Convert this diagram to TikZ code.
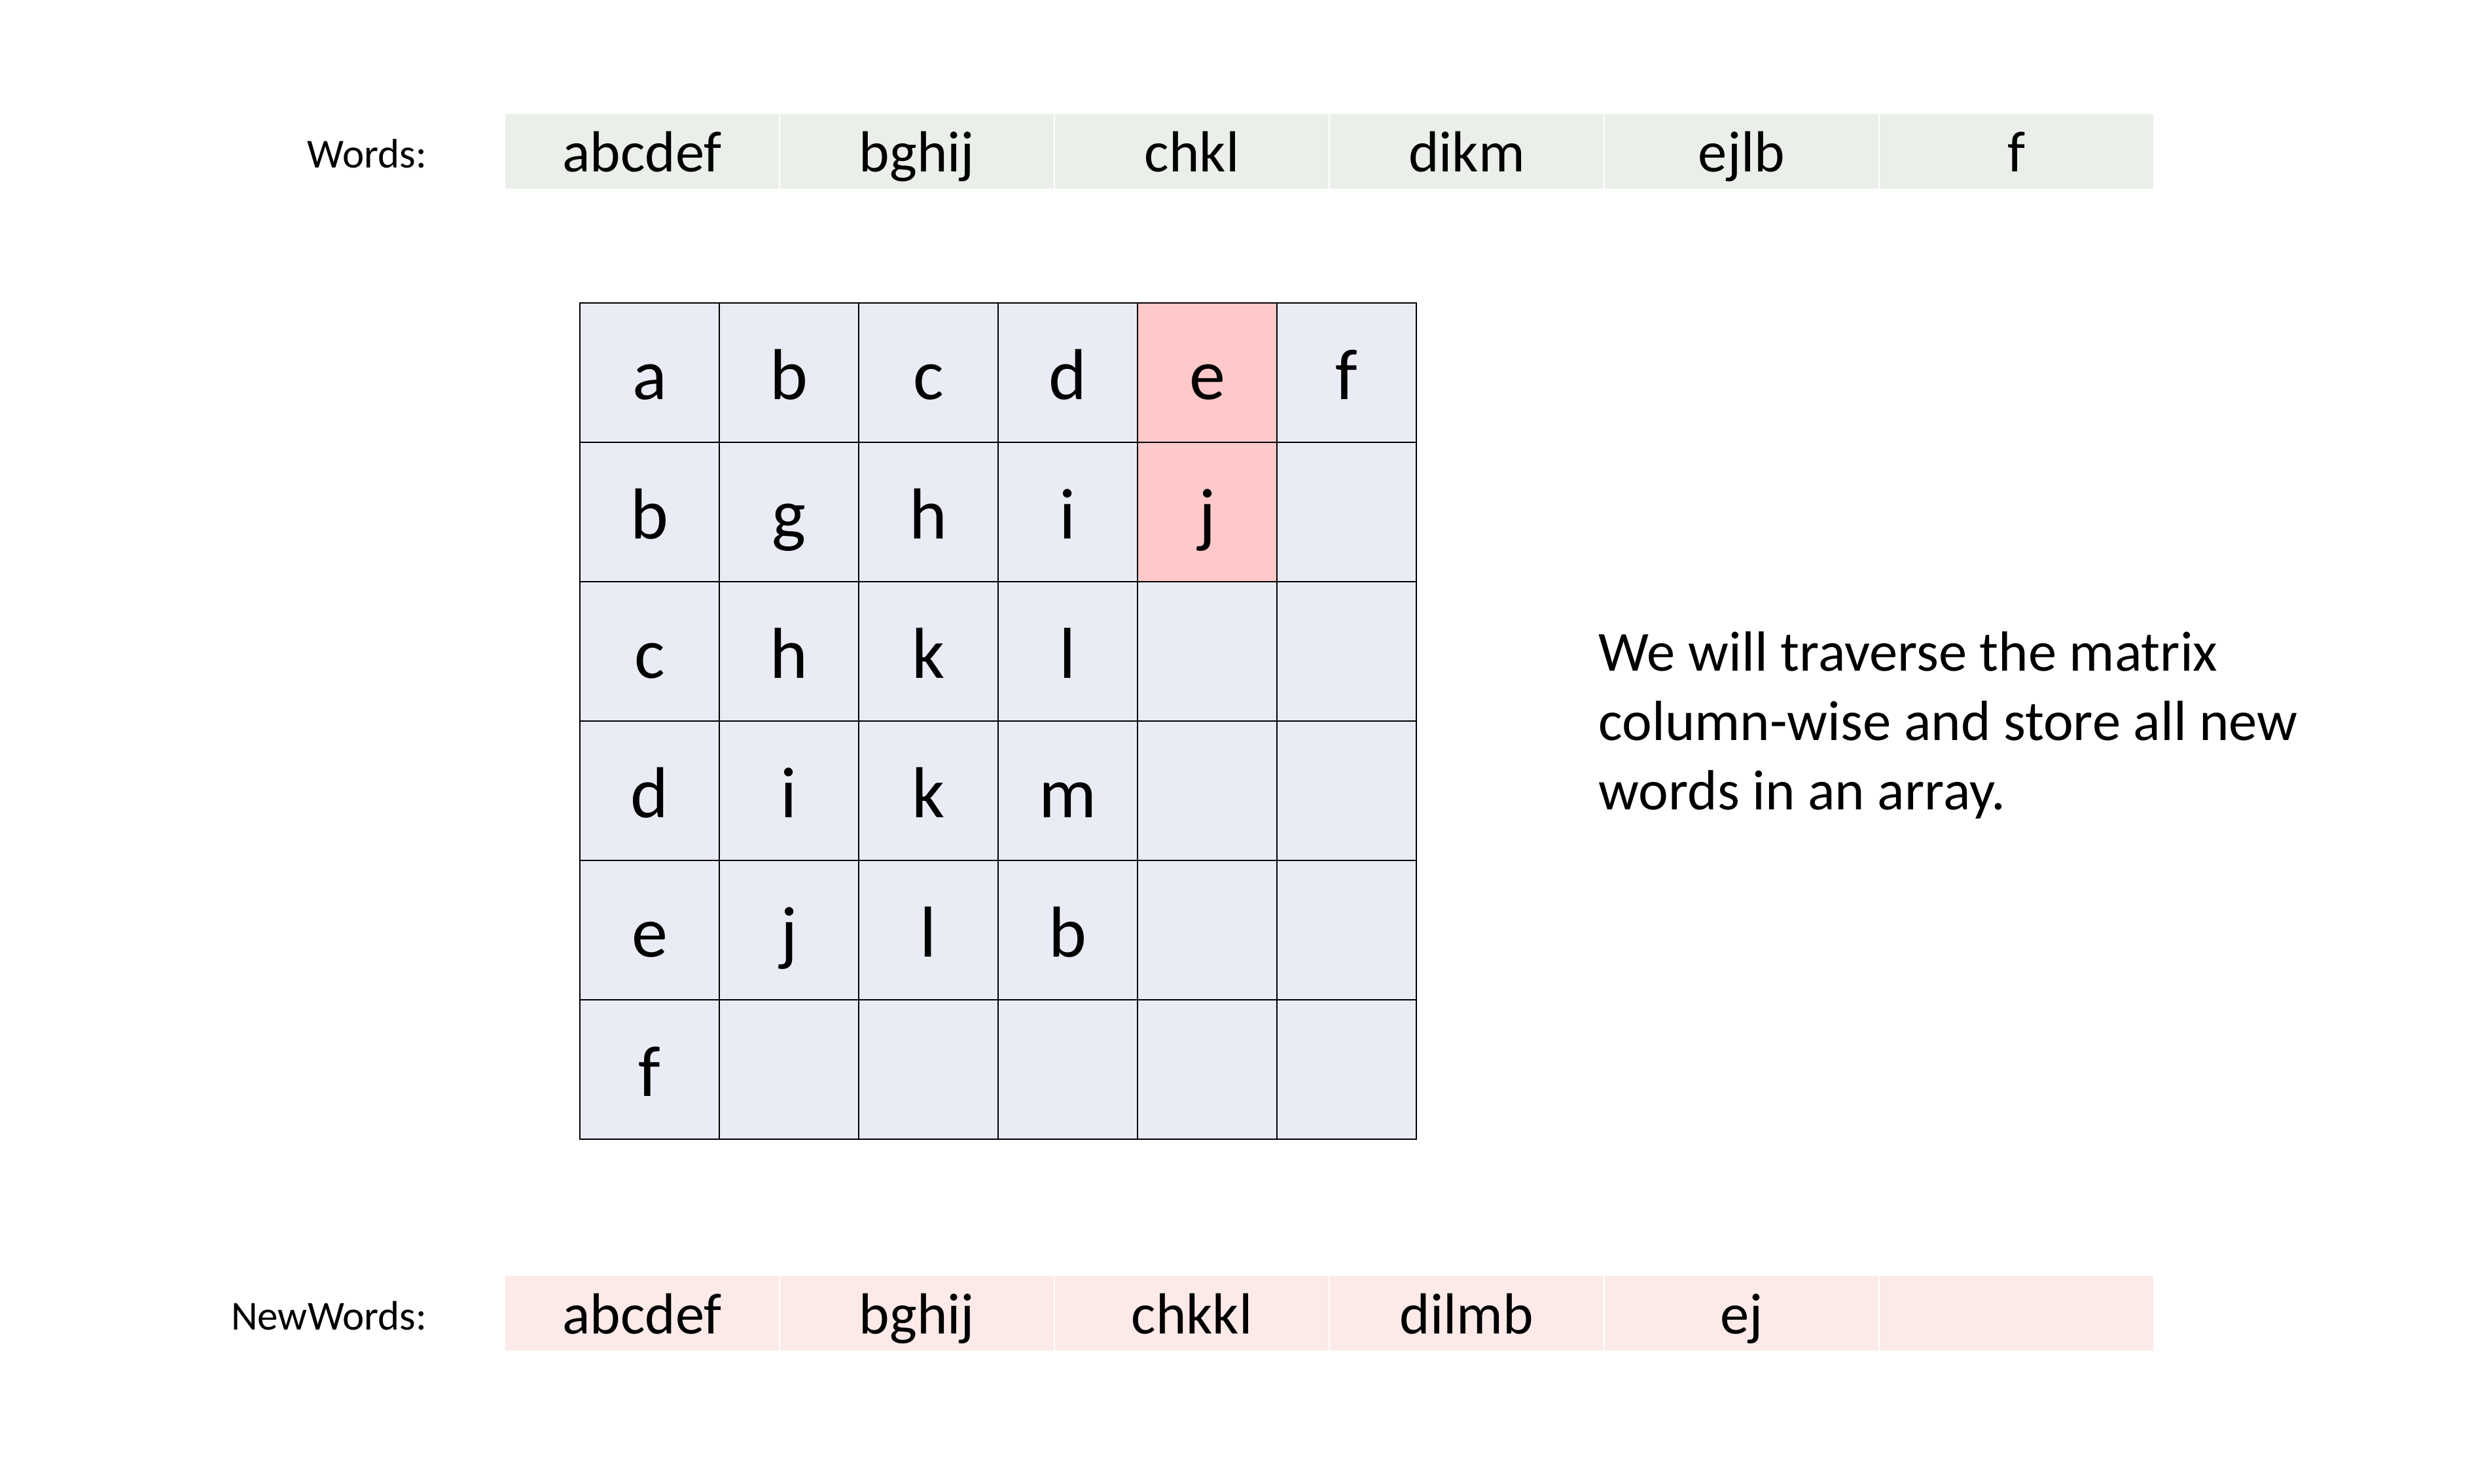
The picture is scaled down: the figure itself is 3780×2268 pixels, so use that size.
\documentclass[tikz,border=0pt]{standalone}
\usepackage{fontspec}
\setmainfont{Carlito}
\definecolor{gridfill}{HTML}{E9EBF5}
\definecolor{hotfill}{HTML}{FFC9C9}
\definecolor{wordsfill}{HTML}{EBEFE9}
\definecolor{newfill}{HTML}{FBEAE7}
\tikzset{
  cell/.style={draw=black, line width=0.6pt, fill=gridfill, minimum width=54.1pt, minimum height=54.1pt, inner sep=0pt, text height=24.3pt, text depth=3.7pt, font=\fontsize{28}{33}\selectfont},
  hot/.style={cell, fill=hotfill},
  barcell/.style={draw=white, line width=0.4pt, minimum width=106.7pt, minimum height=29.2pt, inner sep=0pt, text height=19.2pt, text depth=3.3pt, font=\fontsize{22.5}{27}\selectfont},
  wordcell/.style={barcell, fill=wordsfill},
  newcell/.style={barcell, fill=newfill},
  label/.style={anchor=base east, inner sep=0pt, font=\fontsize{16}{20}\selectfont},
}
\begin{document}
\begin{tikzpicture}[x=0.254pt,y=-0.254pt]
\useasboundingbox[fill=white] (0,0) rectangle (3780,2268);
% Words bar
\node[label] (wl) at (653,257) {Words:};
\foreach \t [count=\i] in {abcdef,bghij,chkl,dikm,ejlb,f}
  \node[wordcell] (w\i) at ({771+420*(\i-0.5)},231) {\t};
% NewWords bar
\node[label] (nl) at (653,2032) {NewWords:};
\foreach \t [count=\i] in {abcdef,bghij,chkkl,dilmb,ej,{}}
  \node[newcell] (n\i) at ({771+420*(\i-0.5)},2007) {\t};
% Grid
\foreach \row [count=\r] in {{a,b,c,d,e,f},{b,g,h,i,j,{}},{c,h,k,l,{},{}},{d,i,k,m,{},{}},{e,j,l,b,{},{}},{f,{},{},{},{},{}}}{
  \foreach \t [count=\c] in \row {
    \pgfmathsetmacro{\ishot}{(\c==5 && \r<3) ? 1 : 0}
    \ifdim\ishot pt>0.5pt
      \node[hot] (g\r\c) at ({886+213*(\c-0.5)},{463+213*(\r-0.5)}) {\t};
    \else
      \node[cell] (g\r\c) at ({886+213*(\c-0.5)},{463+213*(\r-0.5)}) {\t};
    \fi
  }
}
% Description
\node[anchor=north west, align=left, inner sep=0pt, font=\fontsize{22}{26.9}\selectfont] (desc) at (2442,965)
  {We will traverse the matrix\\column-wise and store all new\\words in an array.};
\end{tikzpicture}
\end{document}
